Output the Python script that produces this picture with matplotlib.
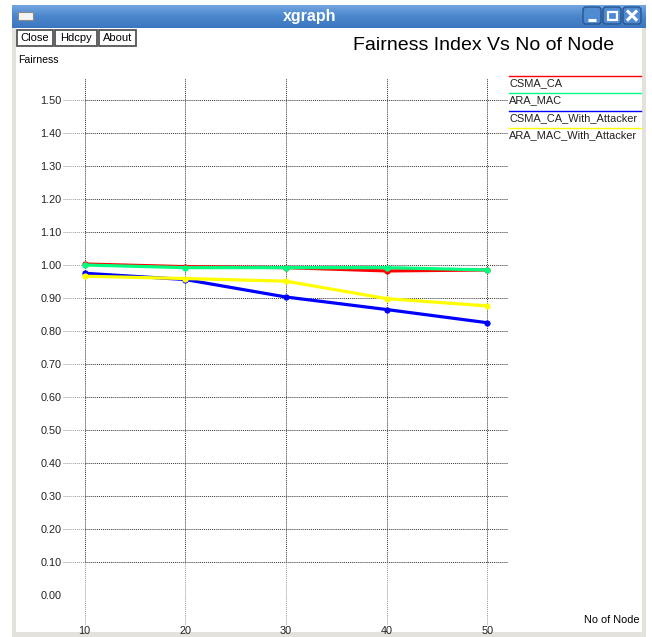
import numpy as np
import matplotlib
matplotlib.use('Agg')
import matplotlib.pyplot as plt
from matplotlib.patches import Rectangle, FancyBboxPatch

plt.rcParams['font.family'] = ['Liberation Sans', 'DejaVu Sans']

# data
nodes = [10, 20, 30, 40, 50]
csma_ca = [1.003, 0.995, 0.992, 0.982, 0.985]
ara_mac = [1.000, 0.992, 0.992, 0.992, 0.985]
csma_ca_att = [0.975, 0.956, 0.903, 0.865, 0.825]
ara_mac_att = [0.966, 0.959, 0.951, 0.898, 0.876]

series_names = ['CSMA_CA', 'ARA_MAC', 'CSMA_CA_With_Attacker', 'ARA_MAC_With_Attacker']
series_colors = ['#ff0000', '#00ff7f', '#0000ff', '#ffff00']

x_ticks = [10, 20, 30, 40, 50]
y_ticks = [0.0, 0.1, 0.2, 0.3, 0.4, 0.5, 0.6, 0.7, 0.8, 0.9, 1.0, 1.1, 1.2, 1.3, 1.4, 1.5]

W, H = 652, 637
fig = plt.figure(figsize=(W / 100, H / 100), dpi=100)

# window decoration, drawn in pixel coordinates
bg = fig.add_axes([0, 0, 1, 1])
bg.axis('off')

# frame + white client area
bg.add_patch(Rectangle((12, 5), 634, 632, color='#e4e2dc', lw=0))
bg.add_patch(Rectangle((16, 28), 626, 604, color='white', lw=0))

# title bar gradient
grad = np.linspace(0, 1, 50).reshape(-1, 1)
cmap = matplotlib.colors.LinearSegmentedColormap.from_list('tb', ['#72a6e0', '#4a86cc', '#3c76c0'])
bg.imshow(grad, cmap=cmap, extent=(12, 646, 28, 5), aspect='auto', zorder=1)
bg.set_xlim(0, W)
bg.set_ylim(H, 0)
bg.text(310, 16, 'xgraph', color='white', fontsize=11.5, fontweight='bold',
        ha='center', va='center', zorder=3)

# window icon
bg.add_patch(Rectangle((18, 12), 15, 8, facecolor='#f4f4f4', edgecolor='#8a8a8a', lw=0.8, zorder=3))

# min / max / close buttons
for bx in [583, 603, 623]:
    bg.add_patch(FancyBboxPatch((bx, 7), 18, 17, boxstyle='round,pad=0,rounding_size=3',
                                facecolor='#4f8bd0', edgecolor='#27558f', lw=1.0, zorder=3))
bg.plot([588, 596], [20, 20], color='white', lw=2.2, zorder=4, solid_capstyle='butt')
bg.add_patch(Rectangle((607.5, 11.5), 9, 8, facecolor='none', edgecolor='white', lw=1.6, zorder=4))
bg.plot([628, 636], [11.5, 19.5], color='white', lw=2.2, zorder=4)
bg.plot([628, 636], [19.5, 11.5], color='white', lw=2.2, zorder=4)

# xgraph buttons
for label, x0, x1 in [('Close', 17, 53), ('Hdcpy', 55, 97), ('About', 99, 136)]:
    bg.add_patch(Rectangle((x0, 29.5), x1 - x0, 16.5, facecolor='white',
                           edgecolor='#555555', lw=1.3, zorder=3))
    bg.text((x0 + x1) / 2, 38, label, fontsize=8, ha='center', va='center', zorder=4)

bg.text(18, 60, 'Fairness', fontsize=7.6, ha='left', va='center')
bg.text(353, 46, 'Fairness Index Vs No of Node', fontsize=14, ha='left', va='center')
bg.text(640, 620, 'No of Node', fontsize=7.8, ha='right', va='center')

# legend (xgraph style: line above label)
leg_y = [76, 93, 111, 128]
for name, col, ly in zip(series_names, series_colors, leg_y):
    bg.plot([509, 641], [ly, ly], color=col, lw=1.0, zorder=3)
    bg.text(509, ly + 7, name, fontsize=7.9, ha='left', va='center', color='#222222', zorder=3)

# plot area: pixel box (63..508, 78..621)
px_l, px_r, px_t, px_b = 63, 508, 78, 625
ax = fig.add_axes([px_l / W, 1 - px_b / H, (px_r - px_l) / W, (px_b - px_t) / H])
x_scale = (487.5 - 84.5) / 40.0
y_scale = 330.0
ax.set_xlim(10 - (84.5 - px_l) / x_scale, 10 + (px_r - 84.5) / x_scale)
ax.set_ylim(1 - (px_b - 265) / y_scale, 1 + (265 - px_t) / y_scale)
ax.patch.set_alpha(0)
for s in ax.spines.values():
    s.set_visible(False)

xmin, xmax = ax.get_xlim()
ymin, ymax = ax.get_ylim()
dots = (0, (1, 1))
for yv in y_ticks[1:]:
    ax.plot([xmin, x_ticks[0]], [yv, yv], color='#999999', lw=0.7, ls=dots, zorder=1)
    ax.plot([x_ticks[0], xmax], [yv, yv], color='#333333', lw=0.7, ls=dots, zorder=1)
for xv in x_ticks:
    ax.plot([xv, xv], [ymin, y_ticks[1]], color='#999999', lw=0.7, ls=dots, zorder=1)
    ax.plot([xv, xv], [y_ticks[1], ymax], color='#333333', lw=0.7, ls=dots, zorder=1)

ax.set_xticks(x_ticks)
ax.set_xticklabels([str(v) for v in x_ticks])
ax.set_yticks(y_ticks)
ax.set_yticklabels(['%.2f' % v for v in y_ticks])
ax.tick_params(axis='both', length=0, labelsize=7.8, colors='#222222')
ax.tick_params(axis='y', pad=1)
ax.tick_params(axis='x', pad=1)

for vals, col in zip([csma_ca, ara_mac, csma_ca_att, ara_mac_att], series_colors):
    ax.plot(nodes, vals, color=col, lw=2.3, marker='o', markersize=4.5,
            markeredgewidth=0, zorder=3)

fig.savefig('out.png', dpi=100)
